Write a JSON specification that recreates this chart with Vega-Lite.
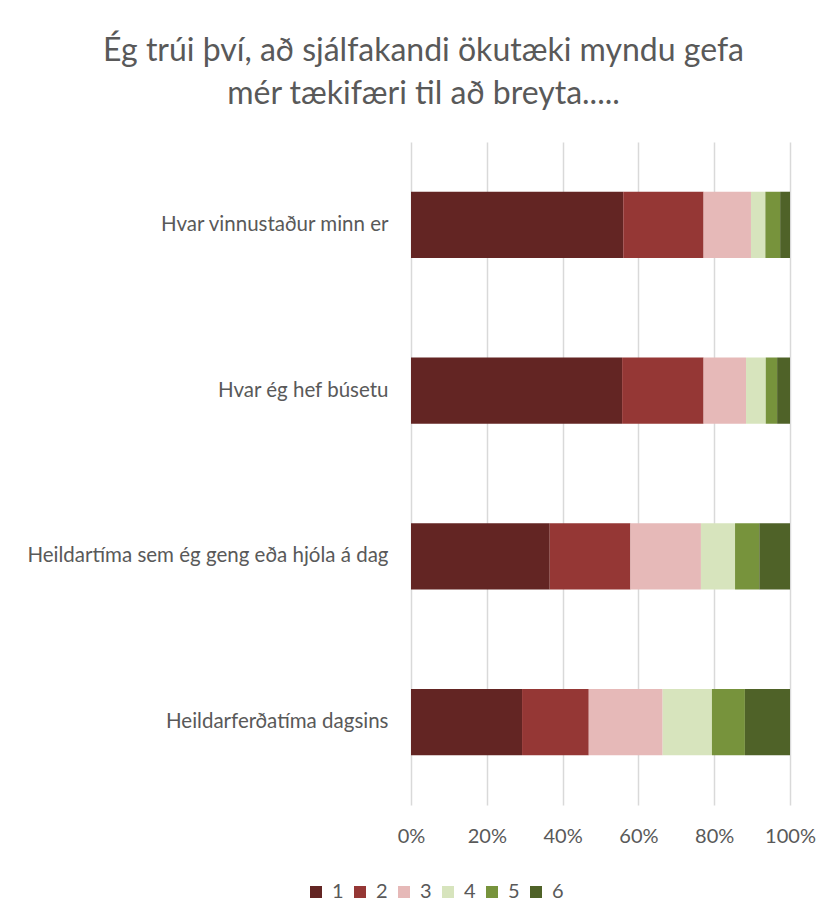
{
  "$schema": "https://vega.github.io/schema/vega-lite/v6.json",
  "width": 379,
  "height": 663,
  "autosize": {"type": "none"},
  "padding": {"left": 411, "top": 142, "right": 42, "bottom": 110},
  "background": "white",
  "title": {
    "text": ["Ég trúi því, að sjálfakandi ökutæki myndu gefa", "mér tækifæri til að breyta....."],
    "font": "Lato",
    "fontSize": 32,
    "fontWeight": "normal",
    "color": "#595959",
    "anchor": "middle",
    "dx": -177,
    "offset": 31,
    "lineHeight": 43
  },
  "data": {
    "values": [
      {"q": "Hvar vinnustaður minn er", "svar": "1", "v": 56.0},
      {"q": "Hvar vinnustaður minn er", "svar": "2", "v": 21.2},
      {"q": "Hvar vinnustaður minn er", "svar": "3", "v": 12.5},
      {"q": "Hvar vinnustaður minn er", "svar": "4", "v": 3.8},
      {"q": "Hvar vinnustaður minn er", "svar": "5", "v": 3.9},
      {"q": "Hvar vinnustaður minn er", "svar": "6", "v": 2.6},
      {"q": "Hvar ég hef búsetu", "svar": "1", "v": 55.7},
      {"q": "Hvar ég hef búsetu", "svar": "2", "v": 21.5},
      {"q": "Hvar ég hef búsetu", "svar": "3", "v": 11.2},
      {"q": "Hvar ég hef búsetu", "svar": "4", "v": 5.2},
      {"q": "Hvar ég hef búsetu", "svar": "5", "v": 3.0},
      {"q": "Hvar ég hef búsetu", "svar": "6", "v": 3.4},
      {"q": "Heildartíma sem ég geng eða hjóla á dag", "svar": "1", "v": 36.6},
      {"q": "Heildartíma sem ég geng eða hjóla á dag", "svar": "2", "v": 21.3},
      {"q": "Heildartíma sem ég geng eða hjóla á dag", "svar": "3", "v": 18.6},
      {"q": "Heildartíma sem ég geng eða hjóla á dag", "svar": "4", "v": 9.0},
      {"q": "Heildartíma sem ég geng eða hjóla á dag", "svar": "5", "v": 6.4},
      {"q": "Heildartíma sem ég geng eða hjóla á dag", "svar": "6", "v": 8.1},
      {"q": "Heildarferðatíma dagsins", "svar": "1", "v": 29.3},
      {"q": "Heildarferðatíma dagsins", "svar": "2", "v": 17.6},
      {"q": "Heildarferðatíma dagsins", "svar": "3", "v": 19.5},
      {"q": "Heildarferðatíma dagsins", "svar": "4", "v": 13.0},
      {"q": "Heildarferðatíma dagsins", "svar": "5", "v": 8.7},
      {"q": "Heildarferðatíma dagsins", "svar": "6", "v": 11.9}
    ]
  },
  "mark": {"type": "bar"},
  "encoding": {
    "y": {
      "field": "q",
      "type": "nominal",
      "sort": null,
      "title": null,
      "scale": {"paddingInner": 0.6, "paddingOuter": 0.3},
      "axis": {
        "domain": false,
        "ticks": false,
        "labelPadding": 23,
        "labelFont": "Lato",
        "labelFontSize": 20.5,
        "labelColor": "#595959",
        "labelLimit": 500
      }
    },
    "x": {
      "field": "v",
      "type": "quantitative",
      "stack": "normalize",
      "title": null,
      "scale": {"domain": [0, 1]},
      "axis": {
        "values": [0, 0.2, 0.4, 0.6, 0.8, 1],
        "format": "%",
        "grid": true,
        "gridColor": "#D9D9D9",
        "gridWidth": 1.5,
        "domain": false,
        "ticks": false,
        "labelPadding": 21,
        "labelFont": "Lato",
        "labelFontSize": 20,
        "labelColor": "#595959",
        "labelFlush": false
      }
    },
    "color": {
      "field": "svar",
      "type": "nominal",
      "title": null,
      "scale": {
        "domain": ["1", "2", "3", "4", "5", "6"],
        "range": ["#632523", "#953735", "#E6B9B8", "#D7E4BD", "#77933C", "#4F6228"]
      },
      "legend": {
        "orient": "none",
        "legendX": -105,
        "legendY": 740,
        "direction": "horizontal",
        "symbolType": "square",
        "symbolSize": 144,
        "symbolStrokeWidth": 0,
        "labelFont": "Lato",
        "labelFontSize": 20,
        "labelColor": "#595959",
        "labelOffset": 6,
        "columnPadding": 6
      }
    },
    "order": {"field": "svar", "type": "ordinal"}
  },
  "config": {"view": {"stroke": null}}
}
